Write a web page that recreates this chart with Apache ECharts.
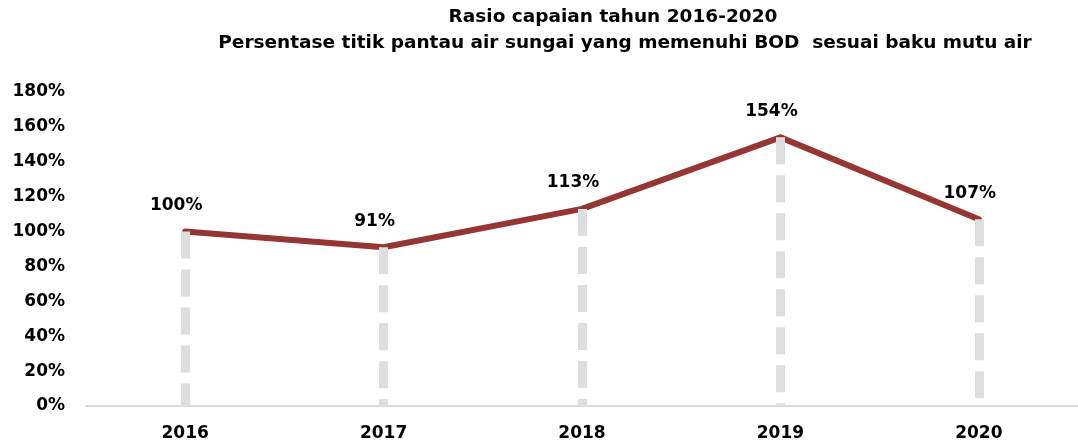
<!DOCTYPE html>
<html><head><meta charset="utf-8">
<script src="https://cdn.jsdelivr.net/npm/echarts@6/dist/echarts.min.js"></script>
<style>html,body{margin:0;padding:0;background:#fff}#c{width:1078px;height:443px}</style>
</head><body><div id="c"></div>
<script>
const titleLines = ['Rasio capaian tahun 2016-2020', 'Persentase titik pantau air sungai yang memenuhi BOD  sesuai baku mutu air'];
const categories = ['2016', '2017', '2018', '2019', '2020'];
const values = [100, 91, 113, 154, 107];
const yTicks = {min: 0, max: 180, interval: 20};

const font = '"DejaVu Sans", sans-serif';
const titleStyle = {fontFamily: font, fontWeight: 'bold', fontSize: 18.5, lineHeight: 25, color: '#000'};
const chart = echarts.init(document.getElementById('c'));
chart.setOption({
  animation: false,
  title: [
    {text: titleLines[0], left: 608, top: 0, textAlign: 'center', textStyle: titleStyle},
    {text: titleLines[1], left: 620, top: 26, textAlign: 'center', textStyle: titleStyle}
  ],
  grid: {left: 86, top: 92, width: 998, height: 314, containLabel: false},
  xAxis: {
    type: 'category', data: categories, boundaryGap: true,
    axisLine: {lineStyle: {color: '#d9d9d9', width: 2}},
    axisTick: {show: false},
    axisLabel: {fontFamily: font, fontWeight: 'bold', fontSize: 17, color: '#000', margin: 19}
  },
  yAxis: {
    type: 'value', min: yTicks.min, max: yTicks.max, interval: yTicks.interval,
    axisLine: {show: false}, axisTick: {show: false}, splitLine: {show: false},
    axisLabel: {formatter: '{value}%', fontFamily: font, fontWeight: 'bold', fontSize: 17, color: '#000', margin: 21}
  },
  series: [
    {
      type: 'line', data: values, symbol: 'none', z: 1,
      lineStyle: {opacity: 0},
      markLine: {
        silent: true, symbol: 'none', label: {show: false},
        emphasis: {disabled: true},
        lineStyle: {color: '#dedede', width: 9, type: [27, 11], opacity: 1},
        data: values.map((v, i) => [{coord: [i, v]}, {coord: [i, 0]}])
      }
    },
    {
      type: 'line', data: values, symbol: 'circle', symbolSize: 5, showSymbol: true, z: 3,
      itemStyle: {color: '#963634'},
      lineStyle: {color: '#963634', width: 6, cap: 'round', join: 'round'},
      label: {
        show: true, position: 'top', distance: 15, offset: [-9, 0],
        formatter: p => p.value + '%',
        fontFamily: font, fontWeight: 'bold', fontSize: 17, color: '#000'
      }
    }
  ]
});
</script></body></html>
